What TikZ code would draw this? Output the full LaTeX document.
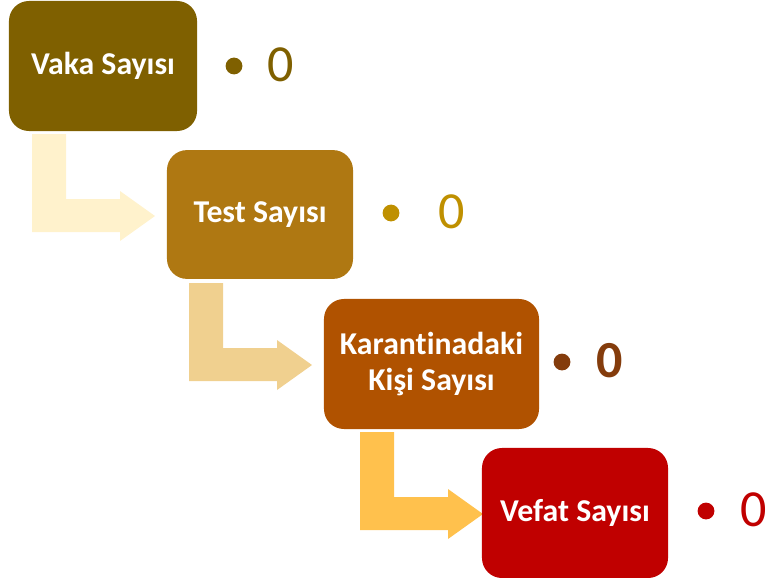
\documentclass[tikz,border=0pt]{standalone}
\usepackage{fontspec}
\setmainfont{Carlito}[Ligatures=NoCommon]
\usetikzlibrary{positioning}
\definecolor{vakacol}{HTML}{7F6000}
\definecolor{testcol}{HTML}{AF7812}
\definecolor{karcol}{HTML}{B05200}
\definecolor{vefatcol}{HTML}{C00000}
\definecolor{testtxt}{HTML}{BF9000}
\definecolor{kartxt}{HTML}{843C0C}
\definecolor{arrowa}{HTML}{FFF2CC}
\definecolor{arrowb}{HTML}{F0D08F}
\definecolor{arrowc}{HTML}{FFC14D}

\begin{document}
\begin{tikzpicture}[x=0.025cm, y=-0.025cm,
    stepbox/.style={rounded corners=0.5cm, text=white, align=center, inner sep=0pt,
        minimum height=3.25cm, font=\bfseries\fontsize{22.6}{25}\selectfont},
    bullet/.style={circle, inner sep=0pt, minimum size=0.42cm},
    count/.style={inner sep=0pt, font=\fontsize{37}{40}\selectfont}]
    \useasboundingbox (0,0) rectangle (769,578);

    % Bent arrows
    \foreach \ax/\ay/\c in {32/134/arrowa, 189/283/arrowb, 360/432/arrowc} {
        \fill[\c] (\ax,\ay) -- ++(34,0) -- ++(0,65) -- ++(54,0) -- ++(0,-8) -- ++(35,25)
            -- ++(-35,25) -- ++(0,-9) -- ++(-88,0) -- cycle;
    }

    % Boxes
    \node[stepbox, fill=vakacol, minimum width=4.7cm] (vaka) at (103,66) {Vaka Sayısı};
    \node[stepbox, fill=testcol, minimum width=4.65cm, minimum height=3.22cm] (test) at (260,214.5) {Test Sayısı};
    \node[stepbox, fill=karcol, minimum width=5.375cm] (karantina) at (431.5,364) {Karantinadaki\\Kişi Sayısı};
    \node[stepbox, fill=vefatcol, minimum width=4.65cm] (vefat) at (575,513) {Vefat Sayısı};

    % Bullets and counts
    \node[bullet, fill=vakacol] (vakadot) at (234,66) {};
    \node[count, text=vakacol] (vakasay) at (281,64.5) {0};
    \node[bullet, fill=testtxt] (testdot) at (391,213) {};
    \node[count, text=testtxt] (testsay) at (452,211.5) {0};
    \node[bullet, fill=kartxt] (kardot) at (562,362) {};
    \node[count, text=kartxt, font=\bfseries\fontsize{37}{40}\selectfont] (karsay) at (610,360.5) {0};
    \node[bullet, fill=vefatcol] (vefatdot) at (706,511) {};
    \node[count, text=vefatcol] (vefatsay) at (753.5,510) {0};

\end{tikzpicture}
\end{document}
